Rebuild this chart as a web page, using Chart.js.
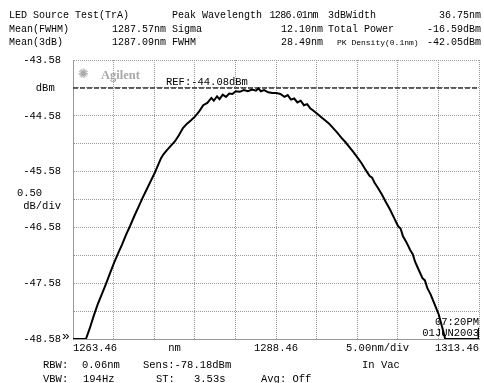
<!DOCTYPE html>
<html>
<head>
<meta charset="utf-8">
<script src="https://cdn.jsdelivr.net/npm/chart.js@4.4.0/dist/chart.umd.min.js"></script>
<style>
  html, body { margin: 0; padding: 0; background: #fff; }
  #wrap { position: relative; width: 484px; height: 383px; overflow: hidden; }
  #chart { position: absolute; left: 0; top: 0; }
  .t { position: absolute; font-family: "Liberation Mono", monospace; font-size: 10.5px; line-height: 12px; color: #000; white-space: pre; }
</style>
</head>
<body>
<div id="wrap"><canvas id="chart" width="484" height="383"></canvas></div>
<script>
// Dados do traço
const wavelengthNm = [
  1263.46, 1265.05, 1265.5, 1266.0, 1266.5, 1267.0, 1267.5, 1268.0, 1268.5, 1269.0,
  1269.5, 1270.0, 1270.5, 1271.0, 1271.5, 1272.0, 1272.5, 1273.0, 1273.5, 1274.0,
  1274.3, 1274.6, 1275.0, 1275.5, 1276.0, 1276.5, 1277.0, 1277.5, 1278.0, 1278.5,
  1279.0, 1279.5, 1280.0, 1280.5, 1280.8, 1281.2, 1281.5, 1281.9, 1282.3, 1282.7,
  1283.1, 1283.5, 1284.0, 1284.5, 1285.0, 1285.5, 1286.0, 1286.3, 1286.6, 1287.0,
  1287.5, 1288.0, 1288.5, 1289.0, 1289.5, 1289.9, 1290.3, 1290.7, 1291.1, 1291.5,
  1291.9, 1292.3, 1292.7, 1293.0, 1293.5, 1294.0, 1294.5, 1295.0, 1295.5, 1296.0,
  1296.5, 1297.0, 1297.5, 1298.0, 1298.5, 1299.0, 1299.5, 1300.0, 1300.3, 1300.6,
  1301.0, 1301.5, 1302.0, 1302.5, 1303.0, 1303.5, 1303.8, 1304.1, 1304.5, 1305.0,
  1305.3, 1305.6, 1306.0, 1306.5, 1306.8, 1307.1, 1307.5, 1308.0, 1308.5, 1309.0,
  1309.3, 1313.4, 1313.46
];
const powerDbm = [
  -48.58, -48.58, -48.40, -48.17, -47.96, -47.78, -47.60, -47.41, -47.22, -47.05,
  -46.89, -46.71, -46.55, -46.38, -46.22, -46.06, -45.91, -45.76, -45.61, -45.44,
  -45.34, -45.27, -45.20, -45.12, -45.04, -44.93, -44.80, -44.72, -44.66, -44.59,
  -44.50, -44.39, -44.35, -44.26, -44.31, -44.23, -44.28, -44.20, -44.24, -44.18,
  -44.19, -44.14, -44.15, -44.12, -44.14, -44.11, -44.13, -44.09, -44.14, -44.12,
  -44.16, -44.17, -44.17, -44.19, -44.24, -44.21, -44.29, -44.27, -44.34, -44.31,
  -44.39, -44.37, -44.45, -44.48, -44.54, -44.60, -44.66, -44.72, -44.80, -44.88,
  -44.97, -45.05, -45.14, -45.23, -45.33, -45.43, -45.55, -45.66, -45.69, -45.78,
  -45.87, -45.99, -46.13, -46.26, -46.41, -46.56, -46.60, -46.74, -46.84, -46.99,
  -47.06, -47.20, -47.33, -47.49, -47.53, -47.67, -47.78, -47.96, -48.14, -48.41,
  -48.58, -48.58, -48.38
];
const refLevel = -44.08;

// Eixos
const xMin = 1263.46, xMax = 1313.46;
const yMin = -48.58, yMax = -43.58;
const xGridValues = [1263.46, 1268.46, 1273.46, 1278.46, 1283.46, 1288.46, 1293.46, 1298.46, 1303.46, 1308.46, 1313.46];
const xLabelValues = [1263.46, 1275.96, 1288.46, 1300.96, 1313.46];
const xLabelTexts = ['1263.46', 'nm', '1288.46', '5.00nm/div', '1313.46'];
const yTickValues = [-48.58, -48.08, -47.58, -47.08, -46.58, -46.08, -45.58, -45.08, -44.58, -44.08, -43.58];
const yTickTexts = ['-48.58', '', '-47.58', '', '-46.58', ['0.50   ', 'dB/div'], '-45.58', '', '-44.58', 'dBm ', '-43.58'];

const near = (a, b) => Math.abs(a - b) < 0.001;

function addText(text, x, y, align, size, color, extra) {
  const d = document.createElement('div');
  d.className = 't';
  d.textContent = text;
  if (size) { d.style.fontSize = size + 'px'; }
  if (color) { d.style.color = color; }
  if (extra) { Object.assign(d.style, extra); }
  d.style.top = (y - 6) + 'px';
  if (align === 'right') d.style.right = (484 - x) + 'px';
  else d.style.left = x + 'px';
  document.getElementById('wrap').appendChild(d);
}

const ctx = document.getElementById('chart').getContext('2d');
Chart.defaults.font.family = '"Liberation Mono", monospace';
Chart.defaults.font.size = 10.5;
Chart.defaults.color = '#000';

new Chart(ctx, {
  type: 'line',
  data: {
    datasets: [
      {
        data: wavelengthNm.map((w, i) => ({ x: w, y: powerDbm[i] })),
        borderColor: '#000',
        borderWidth: 2,
        pointRadius: 0,
        tension: 0
      },
      {
        data: [{ x: xMin, y: refLevel }, { x: xMax, y: refLevel }],
        borderColor: '#333',
        borderWidth: 1.5,
        borderDash: [5, 2],
        pointRadius: 0
      }
    ]
  },
  options: {
    responsive: false,
    animation: false,
    devicePixelRatio: 1,
    layout: { padding: { top: 60, right: 5, left: 0, bottom: 0 } },
    plugins: { legend: { display: false }, tooltip: { enabled: false } },
    scales: {
      x: {
        type: 'linear',
        min: xMin,
        max: xMax,
        afterBuildTicks: (s) => {
          s.ticks = xGridValues.concat([1275.96, 1300.96]).sort((a, b) => a - b).map(v => ({ value: v }));
        },
        afterFit: (s) => { s.height = 44; },
        ticks: {
          autoSkip: false,
          maxRotation: 0,
          minRotation: 0,
          align: 'inner',
          padding: 3,
          callback: (v) => {
            const i = xLabelValues.findIndex(l => near(l, v));
            return i >= 0 ? xLabelTexts[i] : '';
          }
        },
        grid: {
          drawTicks: false,
          lineWidth: 1,
          color: (c) => (c.tick && xGridValues.some(v => near(v, c.tick.value))) ? '#999' : 'rgba(0,0,0,0)'
        },
        border: { display: true, color: '#999', dash: [1, 1] }
      },
      y: {
        type: 'linear',
        min: yMin,
        max: yMax,
        afterBuildTicks: (s) => { s.ticks = yTickValues.map(v => ({ value: v })); },
        afterFit: (s) => { s.width = 73; },
        ticks: {
          autoSkip: false,
          padding: 12,
          callback: (v) => {
            const i = yTickValues.findIndex(l => near(l, v));
            return i >= 0 ? yTickTexts[i] : '';
          }
        },
        grid: { drawTicks: false, lineWidth: 1, color: '#999' },
        border: { display: true, color: '#999', dash: [1, 1] }
      }
    }
  }
});

// Cabeçalho
const hs = 10;
addText('LED Source Test(TrA)', 9, 16, 'left', hs);
addText('Peak Wavelength', 172, 16, 'left', hs);
addText('1286.01nm', 318, 16, 'right', hs, null, { letterSpacing: '-0.6px' });
addText('3dBWidth', 328, 16, 'left', hs);
addText('36.75nm', 481, 16, 'right', hs);
addText('Mean(FWHM)', 9, 29.5, 'left', hs);
addText('1287.57nm', 166, 29.5, 'right', hs);
addText('Sigma', 172, 29.5, 'left', hs);
addText('12.10nm', 323, 29.5, 'right', hs);
addText('Total Power', 328, 29.5, 'left', hs);
addText('-16.59dBm', 481, 29.5, 'right', hs);
addText('Mean(3dB)', 9, 42.5, 'left', hs);
addText('1287.09nm', 166, 42.5, 'right', hs);
addText('FWHM', 172, 42.5, 'left', hs);
addText('28.49nm', 323, 42.5, 'right', hs);
addText('PK Density(0.1nm)', 337, 43, 'left', 8);
addText('-42.05dBm', 481, 42.5, 'right', hs);

// Dentro do gráfico
addText('\u273A', 78, 74, 'left', 17, '#a8a8a8');
addText('Agilent', 101, 75, 'left', 12.5, '#a8a8a8', { fontWeight: 'bold', fontFamily: '"Liberation Serif", serif' });
addText('REF:-44.08dBm', 166, 82);
addText('\u00BB', 62, 337, 'left', 13);
addText('07:20PM', 479, 322, 'right');
addText('01JUN2003', 479, 333, 'right');

// Rodapé
addText('RBW:', 43, 365);
addText('0.06nm', 82, 365);
addText('Sens:-78.18dBm', 143, 365);
addText('In Vac', 362, 365);
addText('VBW:', 43, 379);
addText('194Hz', 83, 379);
addText('ST:', 156, 379);
addText('3.53s', 194, 379);
addText('Avg: Off', 261, 379);
</script>
</body>
</html>
